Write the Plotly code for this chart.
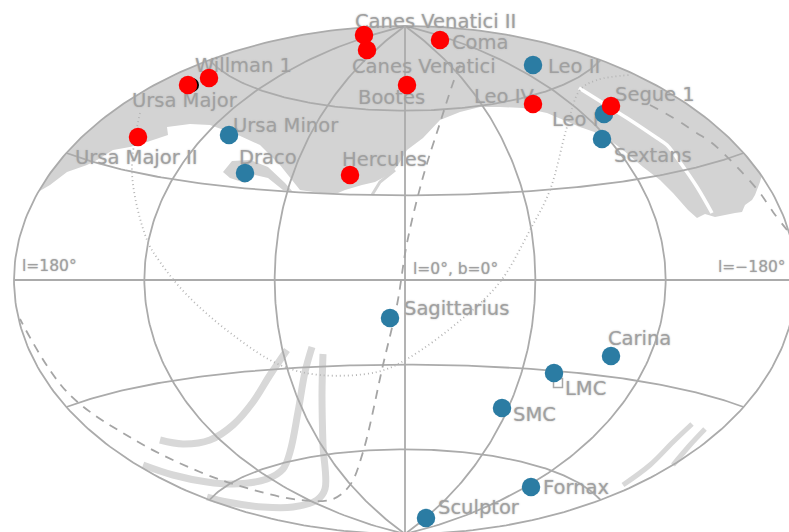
import numpy as np
import plotly.graph_objects as go

# All sky positions are in map units, measured from the l=0, b=0 centre of the all-sky map
A_MAJOR, B_MINOR = 391.0, 254.0

dwarf_names_blue = ["Leo II", "Leo I", "Sextans", "Ursa Minor", "Draco", "Sagittarius",
                    "Carina", "LMC", "SMC", "Fornax", "Sculptor"]
blue_x = [128, 199, 197, -176, -160, -15, 206, 149, 97, 126, 21]
blue_y = [215, 166, 141, 145, 107, -38, -76, -93, -128, -207, -238]

dwarf_names_red = ["Canes Venatici II", "Canes Venatici", "Coma", "Willman 1", "Ursa Major",
                   "Ursa Major II", "Bootes", "Leo IV", "Segue 1", "Hercules"]
red_x = [-41, -38, 35, -196, -217, -267, 2, 128, 206, -55]
red_y = [245, 230, 240, 202, 195, 143, 195, 176, 174, 105]

shadow_x = [-213, -268]
shadow_y = [195, 141]

label_text = ["Canes Venatici II", "Coma", "Willman 1", "Canes Venatici", "Ursa Major", "Bootes",
              "Leo IV", "Leo II", "Segue 1", "Leo I", "Sextans", "Ursa Minor", "Draco",
              "Ursa Major II", "Hercules", "Sagittarius", "Carina", "LMC", "SMC", "Fornax", "Sculptor"]
label_x = [-50, 47, -210, -53, -273, -47, 69, 143, 210, 147, 209, -172, -166, -330, -63, -1, 203, 160, 108, 138, 33]
label_y = [257, 236, 213, 212, 178, 181, 182, 212, 184, 159, 123, 153, 121, 121, 119, -30, -60, -110, -136, -209, -229]

coord_text = ["l=180°", "l=0°, b=0°", "l=−180°"]
coord_x = [-383, 8, 313]
coord_y = [13, 10, 12]

survey_edge_x = [355, 350, 347, 340, 337, 330, 320, 310, 300, 292, 283, 268, 255, 238, 218, 198, 175,
                 142, 118, 95, 75, 55, 35, 18, 2, -7, -15, -30, -43, -60, -67, -85, -105, -125, -145,
                 -167, -195, -215, -238, -237, -258, -275, -292, -308, -318, -338, -355, -367]
survey_edge_y = [98, 85, 80, 75, 68, 67, 65, 63, 66, 62, 70, 87, 100, 113, 130, 145, 153,
                 167, 172, 173, 173, 168, 160, 142, 130, 115, 106, 98, 95, 90, 87, 87, 90, 115, 135,
                 145, 155, 156, 153, 145, 138, 133, 130, 120, 115, 108, 95, 88]

draco_patch_x = [-182, -173, -155, -137, -120, -112, -122, -137, -150, -160, -175]
draco_patch_y = [108, 119, 120, 113, 97, 88, 90, 102, 105, 97, 102]

survey_gap_x = [174, 198, 222, 252, 262, 277, 292, 307]
survey_gap_y = [192, 177, 162, 142, 135, 115, 93, 67]

herc_streak_x = [-33, -25, -10]
herc_streak_y = [85, 98, 110]

south_arcs = [
    ([-118, -135, -152, -172, -195, -222, -245], [-70, -95, -122, -145, -160, -164, -160], 7),
    ([-93, -100, -107, -115, -122, -138, -172, -198, -232, -262],
     [-67, -92, -132, -172, -189, -199, -204, -202, -195, -185], 7),
    ([-82, -83, -82, -80, -88, -112, -142, -178, -198], [-74, -115, -165, -209, -220, -227, -227, -222, -217], 7),
    ([287, 268, 245, 218], [-144, -162, -185, -205], 5),
    ([300, 285, 268], [-149, -165, -185], 5),
]

dotted_x = [-265, -273, -258, -245, -218, -172, -125, -85, -28, 2, 57, 95, 125, 145, 162, 175, 192, 225]
dotted_y = [167, 107, 40, 18, -15, -55, -85, -95, -92, -79, -39, -2, 50, 90, 153, 190, 200, 205]

dashed_x = [55, 48, 35, 18, 2, -8, -22, -42, -55, -72, -105, -155, -205, -272, -338, -385]
dashed_y = [215, 197, 157, 103, 37, -25, -85, -172, -205, -219, -220, -209, -192, -159, -112, -39]
dashed_right_x = [245, 258, 275, 290, 307, 332, 355, 368, 382]
dashed_right_y = [175, 168, 158, 148, 137, 113, 87, 68, 50]

meridians = [-180, -120, -60, 0, 60, 120, 180]
parallels = [-60, -30, 0, 30, 60]

LMC_box_x, LMC_box_y = [153], [-103]

GRID = "#ababab"
FILL = "#d3d3d3"
ARC = "#d8d8d8"
BLUE = "#2b7ca3"
RED = "#ff0000"
TEXT = "#a0a0a0"


def aitoff(l_deg, b_deg):
    lam = np.radians(np.asarray(l_deg, float)) / 2
    phi = np.radians(np.asarray(b_deg, float))
    alpha = np.arccos(np.cos(phi) * np.cos(lam))
    s = np.sinc(alpha / np.pi)
    return A_MAJOR * np.cos(phi) * np.sin(lam) / (s * np.pi / 2), \
        B_MINOR * np.sin(phi) / (s * np.pi / 2)


fig = go.Figure()

# survey footprint: north rim of the ellipse, closed by the digitised edge
theta = np.linspace(np.pi - np.arcsin(88 / B_MINOR), np.arcsin(104 / B_MINOR), 120)
foot_x = list(A_MAJOR * np.cos(theta)) + survey_edge_x
foot_y = list(B_MINOR * np.sin(theta)) + survey_edge_y
fig.add_trace(go.Scatter(x=foot_x, y=foot_y, mode="lines", fill="toself", fillcolor=FILL,
                         line=dict(width=0), hoverinfo="skip"))
fig.add_trace(go.Scatter(x=draco_patch_x, y=draco_patch_y, mode="lines", fill="toself", fillcolor=FILL,
                         line=dict(width=0), hoverinfo="skip"))
fig.add_trace(go.Scatter(x=herc_streak_x, y=herc_streak_y, mode="lines",
                         line=dict(color=FILL, width=3), hoverinfo="skip"))
fig.add_trace(go.Scatter(x=survey_gap_x, y=survey_gap_y, mode="lines",
                         line=dict(color="white", width=3.5, shape="spline"), hoverinfo="skip"))
for ax, ay, w in south_arcs:
    fig.add_trace(go.Scatter(x=ax, y=ay, mode="lines",
                             line=dict(color=ARC, width=w, shape="spline"), hoverinfo="skip"))

# graticule
lat_run = np.linspace(-90, 90, 181)
lon_run = np.linspace(-180, 180, 181)
for m in meridians:
    gx, gy = aitoff(np.full_like(lat_run, m), lat_run)
    fig.add_trace(go.Scatter(x=gx, y=gy, mode="lines", line=dict(color=GRID, width=1.8), hoverinfo="skip"))
for p in parallels:
    gx, gy = aitoff(lon_run, np.full_like(lon_run, p))
    fig.add_trace(go.Scatter(x=gx, y=gy, mode="lines", line=dict(color=GRID, width=1.8), hoverinfo="skip"))

fig.add_trace(go.Scatter(x=dotted_x, y=dotted_y, mode="lines",
                         line=dict(color="#b5b5b5", width=1.8, dash="1px 3px", shape="spline"), hoverinfo="skip"))
fig.add_trace(go.Scatter(x=dashed_x, y=dashed_y, mode="lines",
                         line=dict(color="#a5a5a5", width=1.8, dash="9px 7px", shape="spline"), hoverinfo="skip"))
fig.add_trace(go.Scatter(x=dashed_right_x, y=dashed_right_y, mode="lines",
                         line=dict(color="#a5a5a5", width=1.8, dash="9px 9px", shape="spline"), hoverinfo="skip"))
fig.add_trace(go.Scatter(x=LMC_box_x, y=LMC_box_y, mode="markers",
                         marker=dict(symbol="square-open", size=9, color="#a8a8a8", line=dict(width=1.5)),
                         hoverinfo="skip"))

# labels, kept under the markers
fig.add_trace(go.Scatter(x=label_x, y=label_y, text=label_text, mode="text", textposition="middle right",
                         textfont=dict(family="DejaVu Sans", size=19.5, color=TEXT, shadow="0 0 2px #b8b8b8"),
                         hoverinfo="skip"))
fig.add_trace(go.Scatter(x=coord_x, y=coord_y, text=coord_text, mode="text", textposition="middle right",
                         textfont=dict(family="DejaVu Sans", size=15.5, color=TEXT, shadow="0 0 1.5px #b8b8b8"),
                         hoverinfo="skip"))

fig.add_trace(go.Scatter(x=shadow_x, y=shadow_y, mode="markers",
                         marker=dict(size=14, color="black", line=dict(width=0)), hoverinfo="skip"))
fig.add_trace(go.Scatter(x=blue_x, y=blue_y, text=dwarf_names_blue, mode="markers",
                         marker=dict(size=18.5, color=BLUE, line=dict(width=0))))
fig.add_trace(go.Scatter(x=red_x, y=red_y, text=dwarf_names_red, mode="markers",
                         marker=dict(size=18.5, color=RED, line=dict(width=0))))

fig.update_layout(
    width=789, height=532,
    margin=dict(l=0, r=0, t=0, b=0),
    paper_bgcolor="white", plot_bgcolor="white",
    showlegend=False,
    xaxis=dict(range=[-405, 384], visible=False, fixedrange=True),
    yaxis=dict(range=[-252, 280], visible=False, fixedrange=True),
)
fig.write_html("out.html", default_width="789px", default_height="532px",
               config={"displayModeBar": False},
               post_script="document.body.style.margin='0';document.body.style.overflow='hidden';")
